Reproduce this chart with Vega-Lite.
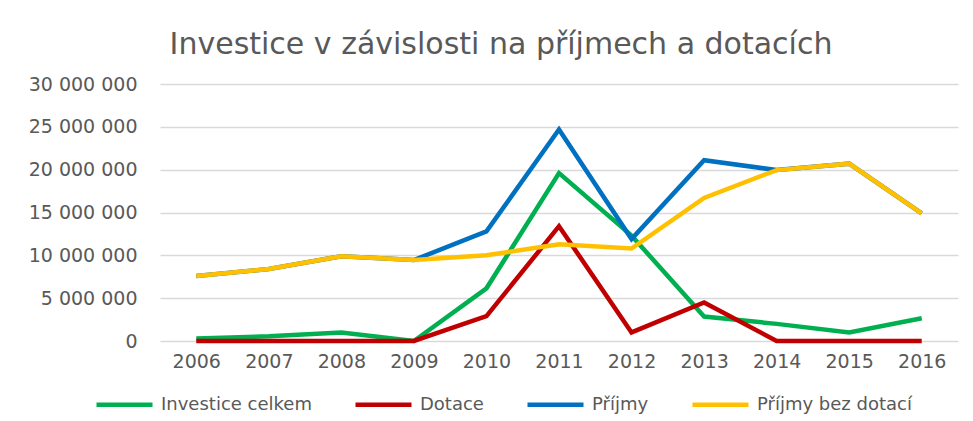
{
  "$schema": "https://vega.github.io/schema/vega-lite/v6.json",
  "width": 798,
  "height": 257,
  "autosize": {"type": "none"},
  "padding": {"left": 160, "top": 84, "right": 15, "bottom": 80},
  "background": "white",
  "title": {
    "text": "Investice v závislosti na příjmech a dotacích",
    "font": "DejaVu Sans",
    "fontSize": 30,
    "fontWeight": "normal",
    "color": "#595959",
    "anchor": "middle",
    "dx": -58,
    "offset": 15
  },
  "config": {
    "locale": {"number": {"decimal": ",", "thousands": " ", "grouping": [3], "currency": ["", " Kč"]}},
    "view": {"stroke": null},
    "font": "DejaVu Sans"
  },
  "data": {
    "values": [
      {"rok": "2006", "rada": "Investice celkem", "hodnota": 300000},
      {"rok": "2007", "rada": "Investice celkem", "hodnota": 550000},
      {"rok": "2008", "rada": "Investice celkem", "hodnota": 1000000},
      {"rok": "2009", "rada": "Investice celkem", "hodnota": 0},
      {"rok": "2010", "rada": "Investice celkem", "hodnota": 6150000},
      {"rok": "2011", "rada": "Investice celkem", "hodnota": 19600000},
      {"rok": "2012", "rada": "Investice celkem", "hodnota": 12300000},
      {"rok": "2013", "rada": "Investice celkem", "hodnota": 2850000},
      {"rok": "2014", "rada": "Investice celkem", "hodnota": 2000000},
      {"rok": "2015", "rada": "Investice celkem", "hodnota": 1000000},
      {"rok": "2016", "rada": "Investice celkem", "hodnota": 2650000},
      {"rok": "2006", "rada": "Dotace", "hodnota": 0},
      {"rok": "2007", "rada": "Dotace", "hodnota": 0},
      {"rok": "2008", "rada": "Dotace", "hodnota": 0},
      {"rok": "2009", "rada": "Dotace", "hodnota": 0},
      {"rok": "2010", "rada": "Dotace", "hodnota": 2900000},
      {"rok": "2011", "rada": "Dotace", "hodnota": 13400000},
      {"rok": "2012", "rada": "Dotace", "hodnota": 1000000},
      {"rok": "2013", "rada": "Dotace", "hodnota": 4500000},
      {"rok": "2014", "rada": "Dotace", "hodnota": 0},
      {"rok": "2015", "rada": "Dotace", "hodnota": 0},
      {"rok": "2016", "rada": "Dotace", "hodnota": 0},
      {"rok": "2006", "rada": "Příjmy", "hodnota": 7600000},
      {"rok": "2007", "rada": "Příjmy", "hodnota": 8400000},
      {"rok": "2008", "rada": "Příjmy", "hodnota": 9900000},
      {"rok": "2009", "rada": "Příjmy", "hodnota": 9450000},
      {"rok": "2010", "rada": "Příjmy", "hodnota": 12800000},
      {"rok": "2011", "rada": "Příjmy", "hodnota": 24700000},
      {"rok": "2012", "rada": "Příjmy", "hodnota": 11900000},
      {"rok": "2013", "rada": "Příjmy", "hodnota": 21100000},
      {"rok": "2014", "rada": "Příjmy", "hodnota": 19950000},
      {"rok": "2015", "rada": "Příjmy", "hodnota": 20700000},
      {"rok": "2016", "rada": "Příjmy", "hodnota": 14900000},
      {"rok": "2006", "rada": "Příjmy bez dotací", "hodnota": 7600000},
      {"rok": "2007", "rada": "Příjmy bez dotací", "hodnota": 8400000},
      {"rok": "2008", "rada": "Příjmy bez dotací", "hodnota": 9900000},
      {"rok": "2009", "rada": "Příjmy bez dotací", "hodnota": 9450000},
      {"rok": "2010", "rada": "Příjmy bez dotací", "hodnota": 10000000},
      {"rok": "2011", "rada": "Příjmy bez dotací", "hodnota": 11300000},
      {"rok": "2012", "rada": "Příjmy bez dotací", "hodnota": 10800000},
      {"rok": "2013", "rada": "Příjmy bez dotací", "hodnota": 16700000},
      {"rok": "2014", "rada": "Příjmy bez dotací", "hodnota": 19950000},
      {"rok": "2015", "rada": "Příjmy bez dotací", "hodnota": 20700000},
      {"rok": "2016", "rada": "Příjmy bez dotací", "hodnota": 14900000}
    ]
  },
  "mark": {"type": "line", "strokeWidth": 4.5, "strokeJoin": "miter", "clip": false},
  "encoding": {
    "x": {
      "field": "rok",
      "type": "ordinal",
      "title": null,
      "axis": {
        "labelAngle": 0,
        "labelFont": "DejaVu Sans",
        "labelFontSize": 19,
        "labelColor": "#595959",
        "labelPadding": 11,
        "domain": false,
        "ticks": false,
        "grid": false
      }
    },
    "y": {
      "field": "hodnota",
      "type": "quantitative",
      "title": null,
      "scale": {"domain": [0, 30000000], "nice": false},
      "axis": {
        "values": [0, 5000000, 10000000, 15000000, 20000000, 25000000, 30000000],
        "format": ",d",
        "labelFont": "DejaVu Sans",
        "labelFontSize": 19,
        "labelColor": "#595959",
        "labelPadding": 23,
        "domain": false,
        "ticks": false,
        "grid": true,
        "gridColor": "#d9d9d9",
        "gridWidth": 1.3
      }
    },
    "color": {
      "field": "rada",
      "type": "nominal",
      "sort": ["Investice celkem", "Dotace", "Příjmy", "Příjmy bez dotací"],
      "scale": {
        "domain": ["Investice celkem", "Dotace", "Příjmy", "Příjmy bez dotací"],
        "range": ["#00B050", "#C00000", "#0070C0", "#FFC000"]
      },
      "legend": {
        "title": null,
        "orient": "none",
        "direction": "horizontal",
        "legendX": -66,
        "legendY": 290,
        "symbolType": "stroke",
        "symbolSize": 3136,
        "symbolStrokeWidth": 4.5,
        "labelFont": "DejaVu Sans",
        "labelFontSize": 18,
        "labelColor": "#595959",
        "labelOffset": 6,
        "columnPadding": 34
      }
    }
  }
}
